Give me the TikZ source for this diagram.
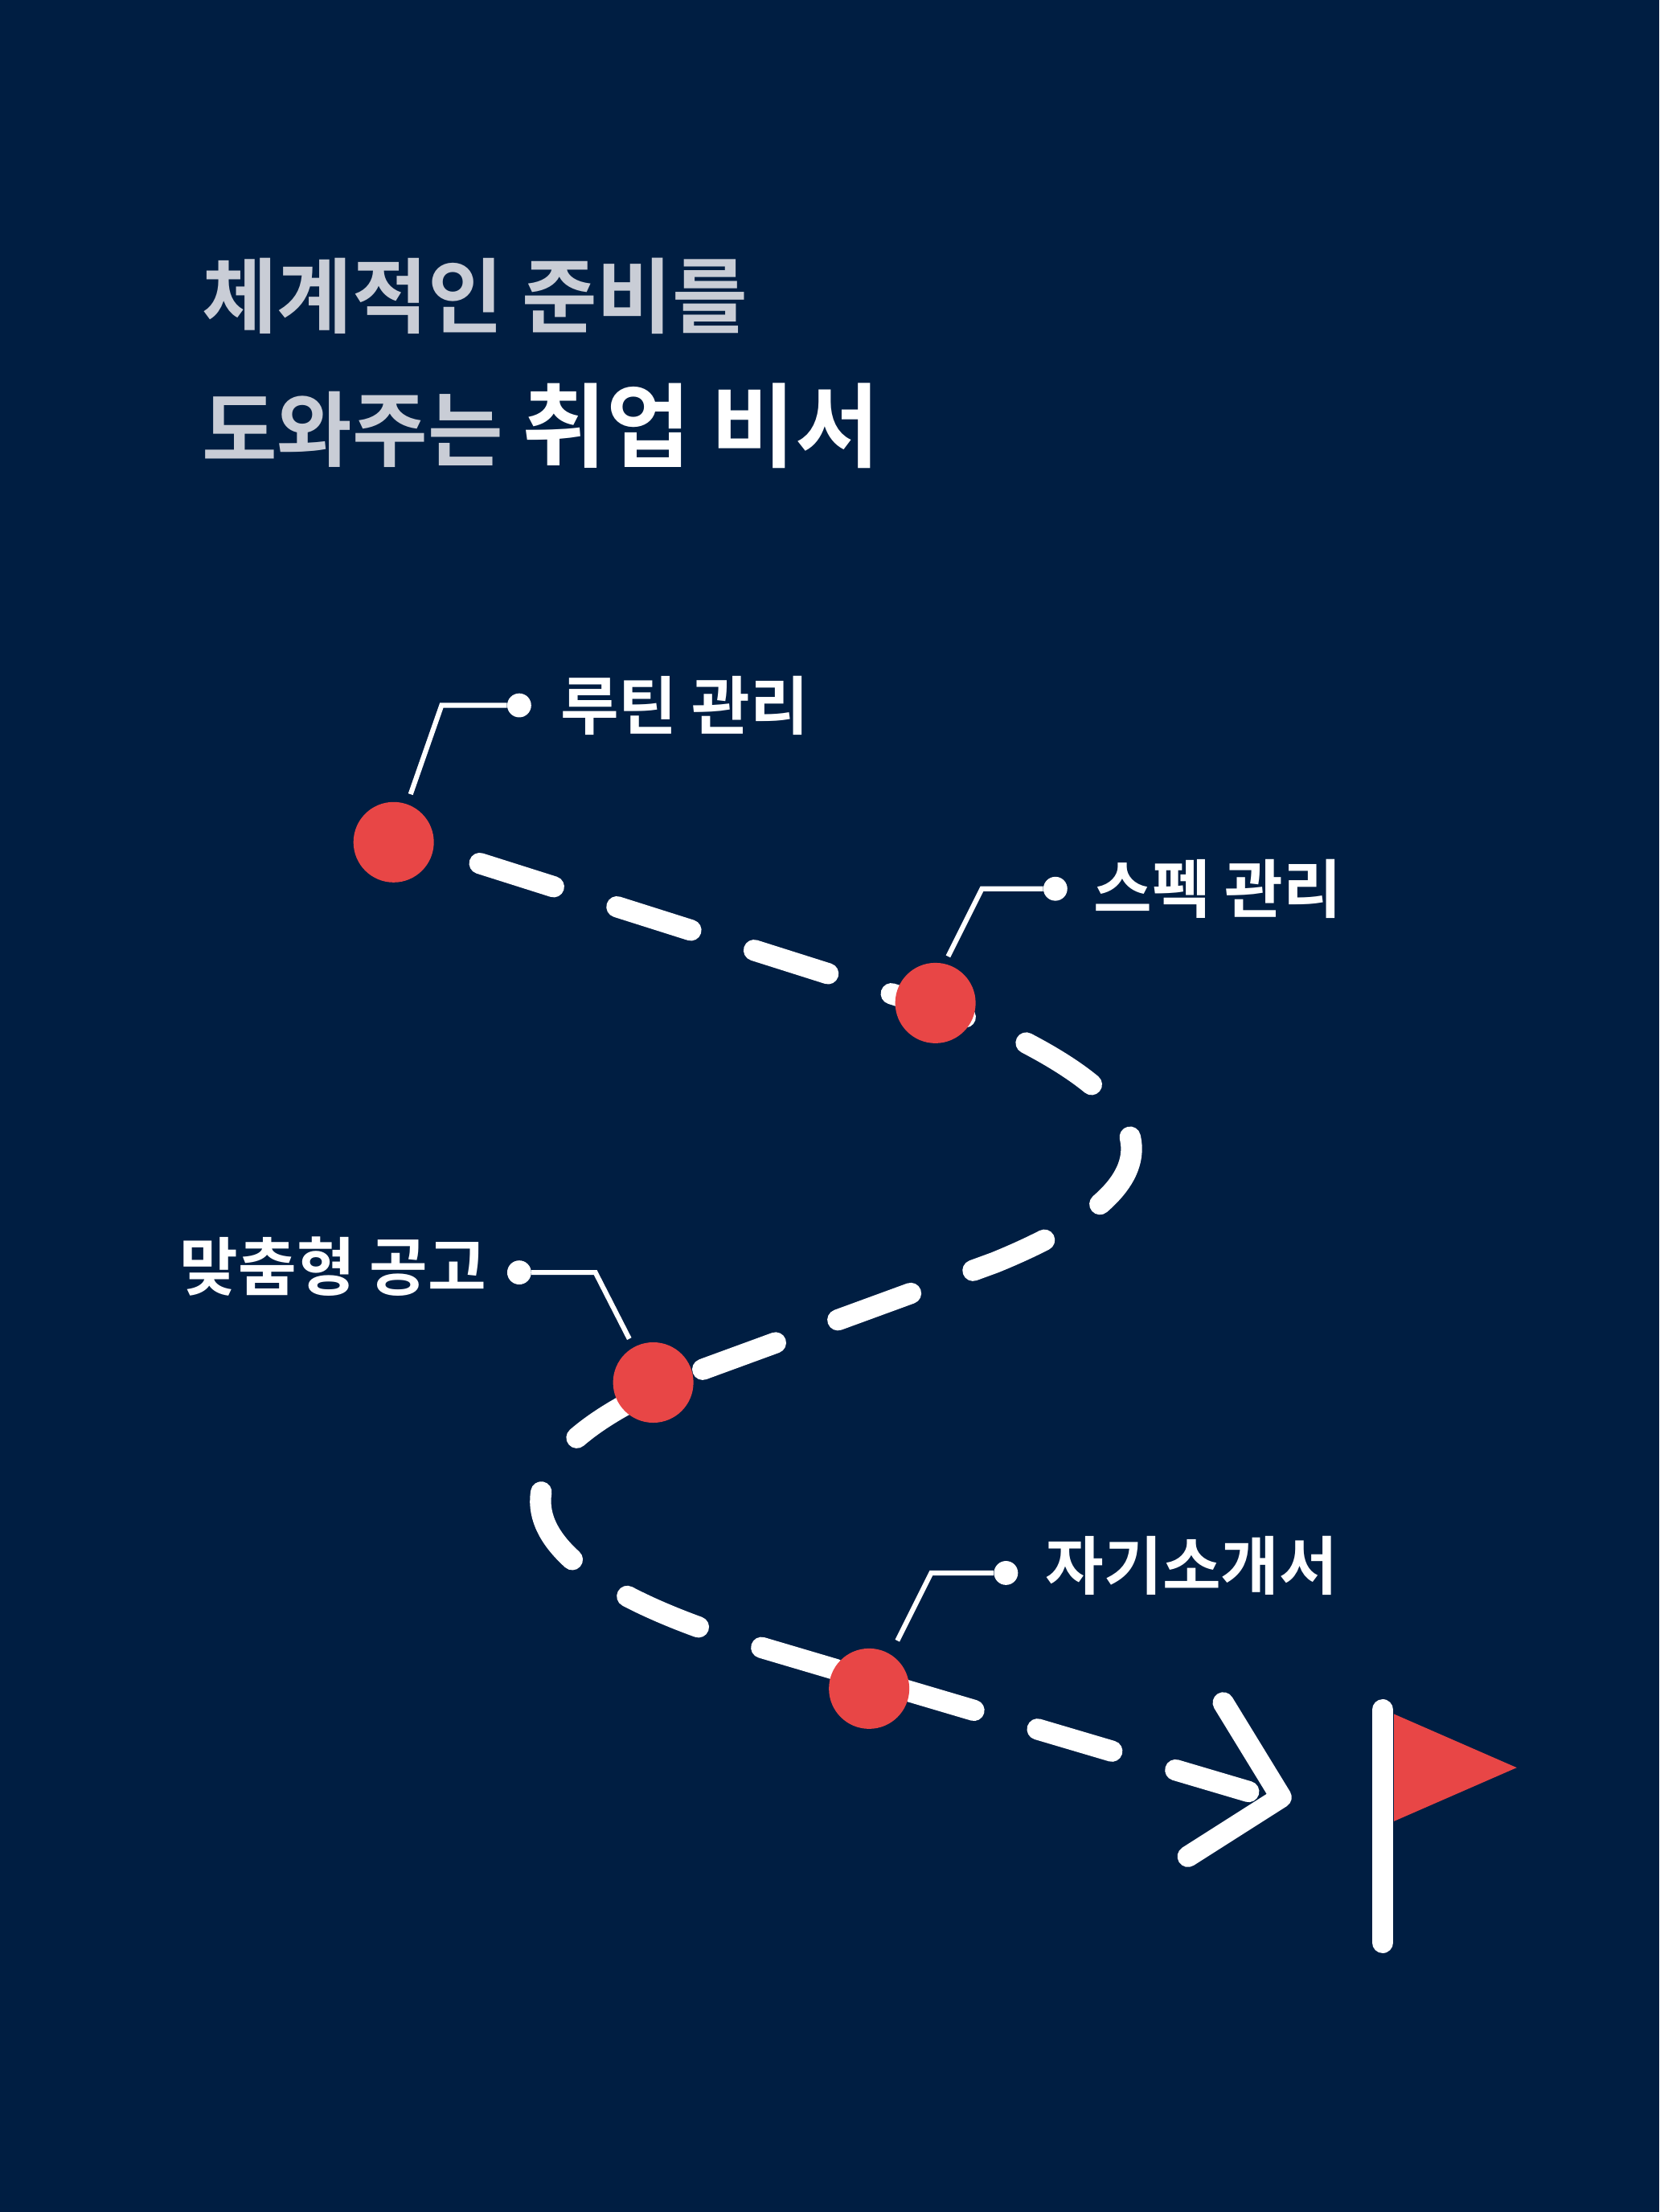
\documentclass[tikz,border=0pt]{standalone}
\usepackage{fontspec}
\newfontfamily\kr{Noto Sans CJK KR}[BoldFont={* Bold}]
\definecolor{bg}{HTML}{001E42}
\definecolor{dot}{HTML}{E84646}
\definecolor{gr}{HTML}{C9CDD6}
\begin{document}
\begin{tikzpicture}[x=1pt,y=-1pt,
  lead/.style={draw=white,line width=3.5pt},
  ldot/.style={circle,fill=white,inner sep=0,minimum size=17pt},
  stop/.style={circle,fill=dot,inner sep=0,minimum size=57pt},
  lbl/.style={font=\kr\bfseries\fontsize{45}{50}\selectfont,text=white,inner sep=0}]
\fill[bg] (0,0) rectangle (1176,1568);
\node[anchor=west,inner sep=0,font=\kr\bfseries\fontsize{58}{64}\selectfont,text=gr] (t1) at (143,210) {체계적인 준비를};
\node[anchor=west,inner sep=0,font=\kr\bfseries\fontsize{58}{64}\selectfont,text=gr] (t2) at (143,302) {도와주는 \textcolor{white}{\fontsize{65}{70}\selectfont 취업 비서}};
% dashed route
\draw[white,line width=15pt,line cap=round,dash pattern=on 55pt off 47pt]
 (340,612) -- (700,726) .. controls (830,785) and (840,840) .. (705,895) -- (500,970) .. controls (330,1035) and (350,1110) .. (530,1165) -- (885,1270);
\draw[white,line width=15pt,line cap=round,line join=round] (867,1207) -- (908,1274) -- (842,1316);
% flag
\draw[white,line width=15pt,line cap=round] (980,1212) -- (980,1377);
\fill[dot] (988,1215) -- (1075,1253) -- (988,1291) -- cycle;
% stops
\node[stop] (s1) at (279,597) {};
\node[stop] (s2) at (663,711) {};
\node[stop] (s3) at (463,980) {};
\node[stop] (s4) at (616,1197) {};
% callouts
\node[ldot] (d1) at (368,500) {};
\coordinate (b1) at (313,500);
\draw[lead] (291,563) -- (b1) -- (d1);
\node[lbl,anchor=west] (l1) at (397,500) {루틴 관리};
\node[ldot] (d2) at (748,630) {};
\coordinate (b2) at (696,630);
\draw[lead] (672,678) -- (b2) -- (d2);
\node[lbl,anchor=west] (l2) at (775,630) {스펙 관리};
\node[ldot] (d3) at (368,902) {};
\coordinate (b3) at (422,902);
\draw[lead] (446,949) -- (b3) -- (d3);
\node[lbl,anchor=east] (l3) at (345,898) {맞춤형 공고};
\node[ldot] (d4) at (713,1115) {};
\coordinate (b4) at (660,1115);
\draw[lead] (636,1163) -- (b4) -- (d4);
\node[lbl,anchor=west] (l4) at (741,1110) {자기소개서};
\end{tikzpicture}
\end{document}
